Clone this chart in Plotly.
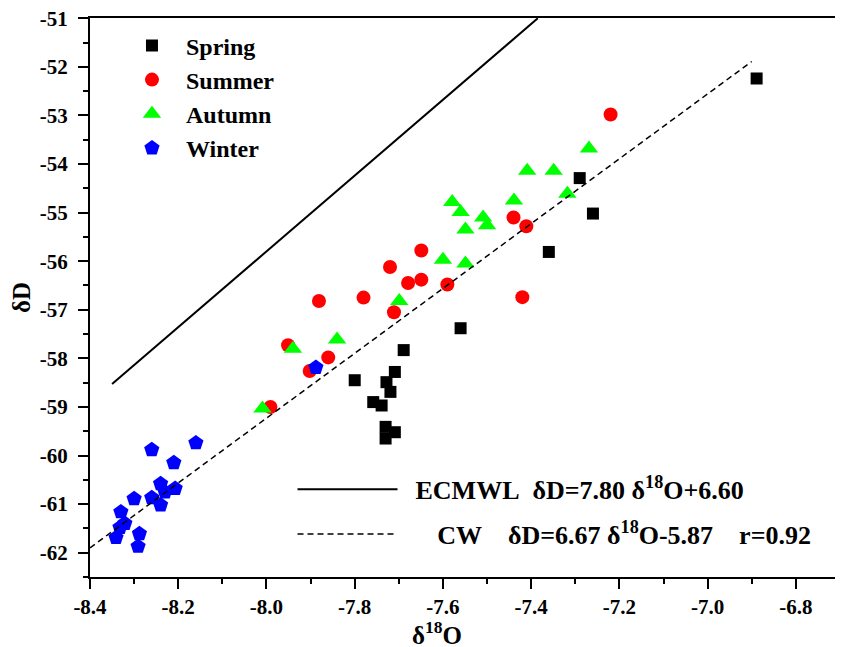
import plotly.graph_objects as go

# values
spring_x = [-6.889, -7.290, -7.260, -7.360, -7.560, -7.689, -7.800, -7.709,
            -7.728, -7.719, -7.758, -7.739, -7.730, -7.709, -7.730]
spring_y = [-52.24, -54.29, -55.02, -55.81, -57.38, -57.83, -58.45, -58.28,
            -58.49, -58.69, -58.90, -58.97, -59.41, -59.52, -59.65]

summer_x = [-7.220, -7.440, -7.411, -7.649, -7.679, -7.649, -7.590, -7.420,
            -7.720, -7.881, -7.780, -7.711, -7.951, -7.860, -7.902, -7.991]
summer_y = [-52.98, -55.10, -55.28, -55.78, -56.45, -56.38, -56.48, -56.74,
            -56.12, -56.82, -56.75, -57.05, -57.73, -57.98, -58.26, -59.00]

autumn_x = [-7.269, -7.409, -7.349, -7.318, -7.439, -7.579, -7.560, -7.509,
            -7.500, -7.549, -7.600, -7.549, -7.699, -7.840, -7.940, -8.009]
autumn_y = [-53.68, -54.14, -54.14, -54.61, -54.75, -54.78, -54.99, -55.10,
            -55.26, -55.35, -55.97, -56.05, -56.82, -57.61, -57.80, -59.03]

winter_x = [-8.160, -8.260, -8.210, -8.240, -8.207, -8.230, -8.300, -8.260,
            -8.240, -8.330, -8.321, -8.332, -8.341, -8.288, -8.291, -7.888]
winter_y = [-59.74, -59.88, -60.15, -60.58, -60.68, -60.75, -60.89, -60.87,
            -61.02, -61.16, -61.40, -61.48, -61.69, -61.61, -61.87, -58.19]

# meteoric water line and its regression (end points)
ecmwl_x = [-8.35, -7.385]
ecmwl_y = [-58.53, -51.0]
cw_x = [-8.40, -6.90]
cw_y = [-61.90, -51.89]

# tick labels (hyphen, like the original)
x_ticks = [-8.4, -8.2, -8.0, -7.8, -7.6, -7.4, -7.2, -7.0, -6.8]
x_labels = ["-8.4", "-8.2", "-8.0", "-7.8", "-7.6", "-7.4", "-7.2", "-7.0", "-6.8"]
y_ticks = list(range(-51, -63, -1))
y_labels = [str(v) for v in y_ticks]

FONT = "Liberation Serif, Times New Roman, serif"
NB = "\u00a0"

fig = go.Figure()

seasons = [
    ("Spring", spring_x, spring_y, "square", "black", 12),
    ("Summer", summer_x, summer_y, "circle", "#ff0000", 14),
    ("Autumn", autumn_x, autumn_y, "triangle-up", "#00ff00", 16),
    ("Winter", winter_x, winter_y, "pentagon", "#0000ff", 16),
]
for name, xs, ys, sym, col, sz in seasons:
    fig.add_trace(go.Scatter(
        x=xs, y=ys, mode="markers", name=name, legendgroup=name,
        marker=dict(symbol=sym, color=col, size=sz, line=dict(width=0)),
    ))

fig.add_trace(go.Scatter(
    x=ecmwl_x, y=ecmwl_y, mode="lines", legend="legend2", legendgroup="ecmwl",
    name=NB * 2 + "ECMWL" + NB * 2 + "δD=7.80 δ<sup>18</sup>O+6.60",
    line=dict(color="black", width=2),
))
fig.add_trace(go.Scatter(
    x=cw_x, y=cw_y, mode="lines", legend="legend2", legendgroup="cw",
    name=NB * 5 + "\u200a" + "CW" + NB * 4 + "δD=6.67 δ<sup>18</sup>O-5.87"
         + NB * 4 + "r=0.92",
    line=dict(color="black", width=1.5, dash="6px,4px"),
))

axis_common = dict(
    showgrid=False, zeroline=False, showline=True, linecolor="black",
    linewidth=2, mirror=True, ticks="outside", ticklen=10, tickwidth=2,
    tickcolor="black", ticklabeloverflow="allow", automargin=False,
    tickfont=dict(family=FONT, size=21, color="black"),
)

# page body has an 8px margin, so the figure is a bit smaller than the window
fig.update_layout(
    width=835, height=639,
    margin=dict(l=82, r=3, t=10, b=70),
    plot_bgcolor="white", paper_bgcolor="white",
    font=dict(family=FONT, color="black"),
    xaxis=dict(
        range=[-8.4, -6.7], tickvals=x_ticks,
        ticktext=["<b>%s</b>" % t for t in x_labels],
        minor=dict(ticks="outside", ticklen=5, tickwidth=2, dtick=0.1,
                   tick0=-8.4, tickcolor="black"),
        **axis_common,
    ),
    yaxis=dict(
        range=[-62.5, -50.995], tickvals=y_ticks,
        ticktext=["<b>%s</b>" % t for t in y_labels],
        ticklabelstandoff=6,
        minor=dict(ticks="outside", ticklen=5, tickwidth=2, dtick=0.5,
                   tick0=-51, tickcolor="black"),
        title=dict(text="<b>δD</b>", font=dict(family=FONT, size=25),
                   standoff=4),
        **axis_common,
    ),
    legend=dict(
        x=0.0373, y=0.9905, xanchor="left", yanchor="top",
        bgcolor="rgba(0,0,0,0)", tracegroupgap=0, itemwidth=58,
        font=dict(family=FONT, size=24, color="black", weight="bold"),
    ),
    legend2=dict(
        x=0.27, y=0.199, xanchor="left", yanchor="top",
        bgcolor="rgba(0,0,0,0)", itemwidth=100, tracegroupgap=8,
        font=dict(family=FONT, size=26, color="black", weight="bold"),
    ),
    annotations=[dict(
        text="<b>δ<sup>18</sup>O</b>", xref="paper", yref="paper",
        x=0.463, y=-0.1, xanchor="center", yanchor="middle",
        showarrow=False,
        font=dict(family=FONT, size=25, color="black"),
    )],
)

fig.write_html("out.html")
